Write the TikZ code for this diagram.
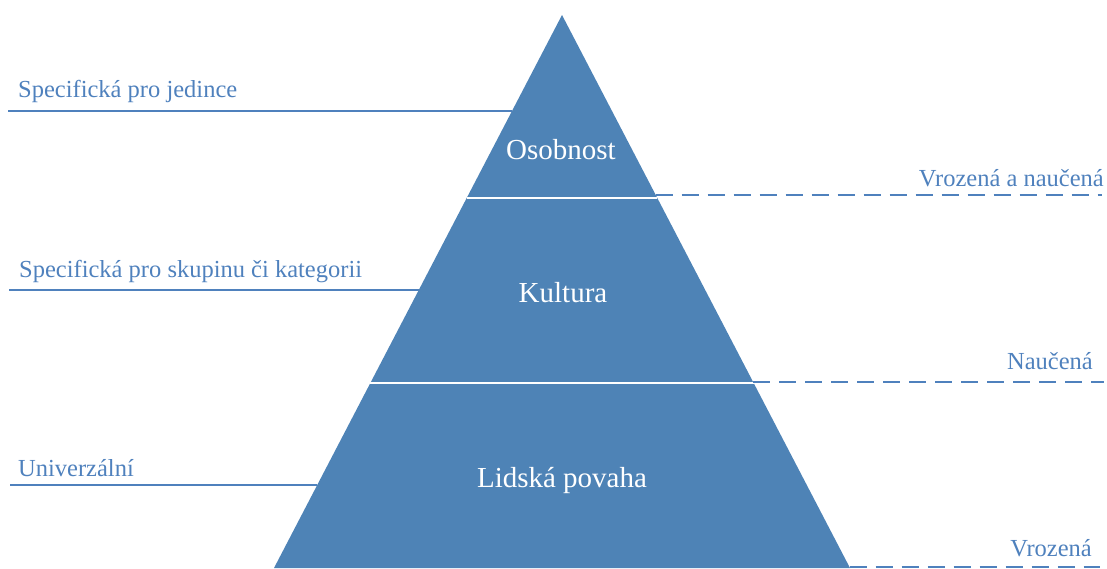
\documentclass[tikz,border=0pt]{standalone}
\usepackage{fontspec}
\setmainfont{Liberation Serif}
\definecolor{pyr}{RGB}{78,131,182}
\definecolor{lbl}{RGB}{79,129,189}
\begin{document}
\begin{tikzpicture}[x=1pt,y=-1pt,
  sidelbl/.style={text=lbl,font=\fontsize{24.5}{28}\selectfont,inner sep=0pt},
  midlbl/.style={text=white,font=\fontsize{29}{32}\selectfont,inner sep=0pt},
  solidline/.style={draw=lbl,line width=2pt},
  dashline/.style={draw=lbl,line width=2pt,dash pattern=on 17pt off 9pt},
  sep/.style={draw=white,line width=2pt}]
\useasboundingbox (0,0) rectangle (1107,568);
\coordinate (apex) at (562,15);
\coordinate (br) at (850,568);
\coordinate (bl) at (274,568);
\fill[pyr] (apex) -- (br) -- (bl) -- cycle;
% separators
\coordinate (s1l) at (466.7,198);
\coordinate (s1r) at (657.3,198);
\coordinate (s2l) at (370.3,383);
\coordinate (s2r) at (753.7,383);
\draw[sep] (s1l) -- (s1r);
\draw[sep] (s2l) -- (s2r);
% left lines
\coordinate (l1a) at (8,110.7);  \coordinate (l1b) at (512.2,110.7);
\coordinate (l2a) at (9,290);    \coordinate (l2b) at (418.8,290);
\coordinate (l3a) at (10,485);   \coordinate (l3b) at (317.2,485);
\draw[solidline] (l1a) -- (l1b);
\draw[solidline] (l2a) -- (l2b);
\draw[solidline] (l3a) -- (l3b);
% right dashed lines
\coordinate (r1a) at (655.7,195); \coordinate (r1b) at (1102,195);
\coordinate (r2a) at (753.1,382); \coordinate (r2b) at (1104,382);
\coordinate (r3a) at (849.5,567); \coordinate (r3b) at (1100,567);
\draw[dashline] (r1a) -- (r1b);
\draw[dashline] (r2a) -- (r2b);
\draw[dashline] (r3a) -- (r3b);
% labels
\node[sidelbl,anchor=base west] (t1) at (18,97) {Specifická pro jedince};
\node[sidelbl,anchor=base west] (t2) at (19,277) {Specifická pro skupinu či kategorii};
\node[sidelbl,anchor=base west] (t3) at (18,476) {Univerzální};
\node[sidelbl,anchor=base east] (t4) at (1104,186) {Vrozená a naučená};
\node[sidelbl,anchor=base east] (t5) at (1093,369) {Naučená};
\node[sidelbl,anchor=base east] (t6) at (1092,556) {Vrozená};
\node[midlbl,anchor=base] (m1) at (561,159) {Osobnost};
\node[midlbl,anchor=base] (m2) at (563,302) {Kultura};
\node[midlbl,anchor=base] (m3) at (562,487) {Lidská povaha};
\end{tikzpicture}
\end{document}
